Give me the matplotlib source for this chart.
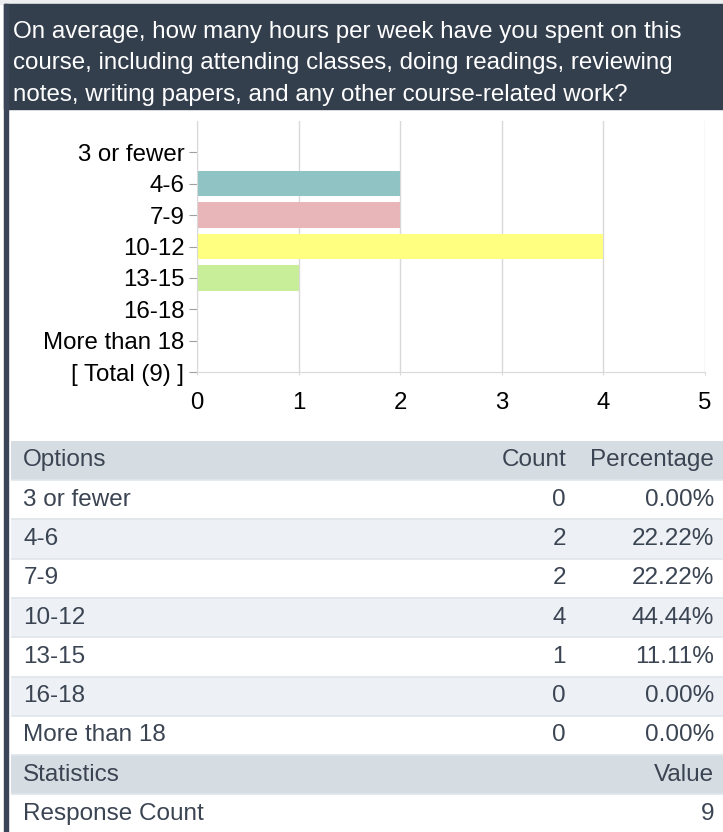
import matplotlib.pyplot as plt
from matplotlib.patches import Rectangle

plt.rcParams['font.family'] = ['Liberation Sans', 'DejaVu Sans']

# Survey data
question = ['On average, how many hours per week have you spent on this',
            'course, including attending classes, doing readings, reviewing',
            'notes, writing papers, and any other course-related work?']
options = ['3 or fewer', '4-6', '7-9', '10-12', '13-15', '16-18', 'More than 18']
counts = [0, 2, 2, 4, 1, 0, 0]
bar_colors = ['#8fc3c4', '#8fc3c4', '#e8b5b9', '#ffff80', '#c9ee9a', '#b5b5d8', '#f2c28f']
x_ticks = [0, 1, 2, 3, 4, 5]

total = sum(counts)
percents = [100 * c / total for c in counts]

W, H = 723, 832
fig = plt.figure(figsize=(W / 100, H / 100), dpi=100)
fig.patch.set_facecolor('white')


def fx(px):
    return px / W


def fy(py):
    return 1 - py / H


# page frame: thin top strip, dark question header and left border
fig.patches.append(Rectangle((0, fy(4)), 1, 4 / H, transform=fig.transFigure,
                             color='#eceef0', zorder=0))
fig.patches.append(Rectangle((fx(4), fy(109)), 1 - fx(4), 105 / H,
                             transform=fig.transFigure, color='#343f4e', zorder=0))
fig.patches.append(Rectangle((fx(4), 0), 4 / W, fy(4), transform=fig.transFigure,
                             color='#3a4657', zorder=0))

for line, base in zip(question, [38, 69.5, 101]):
    fig.text(fx(13), fy(base), line, color='white', fontsize=17.4, va='baseline')

# bar chart
ax = fig.add_axes([fx(197), fy(372.3), fx(705) - fx(197), (372.3 - 120.7) / H])
ax.barh(range(len(options)), counts, height=0.8, color=bar_colors, zorder=2)
ax.set_xlim(0, 5)
ax.set_ylim(len(options), -1)
ax.set_yticks(range(len(options) + 1))
ax.set_yticklabels(options + [f'[ Total ({total}) ]'])
ax.set_xticks(x_ticks)
ax.grid(axis='x', color='#d9d9d9', lw=1, zorder=0)
ax.set_axisbelow(True)
for side in ['top', 'right']:
    ax.spines[side].set_visible(False)
for side in ['left', 'bottom']:
    ax.spines[side].set_color('#d9d9d9')
ax.tick_params(axis='y', length=6, color='#a0a0a0', pad=3, labelsize=17.3)
ax.tick_params(axis='x', length=2, color='#d9d9d9', pad=12, labelsize=17.3)

# results table
row_h = 39.3
top = 440.7
tax = fig.add_axes([fx(11), 0, 1 - fx(11), (H - top) / H])
tax.set_xlim(0, 1)
tax.set_ylim((H - top) / row_h, 0)
tax.axis('off')

rows = [('Options', 'Count', 'Percentage', 'head')]
for i, (opt, c, p) in enumerate(zip(options, counts, percents)):
    rows.append((opt, str(c), f'{p:.2f}%', 'odd' if i % 2 else 'even'))
rows.append(('Statistics', '', 'Value', 'head'))
rows.append(('Response Count', '', str(total), 'even'))

fills = {'head': '#d6dde2', 'even': 'white', 'odd': '#edf1f5'}
text_color = '#3b4452'
for r, (a, b, c, kind) in enumerate(rows):
    tax.add_patch(Rectangle((0, r), 1, 1, color=fills[kind], zorder=0))
    tax.plot([0, 1], [r + 1, r + 1], color='#dfe5ea', lw=1.2, zorder=1)
    tax.text(0.0173, r + 0.5, a, ha='left', va='center', fontsize=17.5, color=text_color)
    tax.text(0.7795, r + 0.5, b, ha='right', va='center', fontsize=17.5, color=text_color)
    tax.text(0.9874, r + 0.5, c, ha='right', va='center', fontsize=17.5, color=text_color)

fig.savefig('out.png', dpi=100)
